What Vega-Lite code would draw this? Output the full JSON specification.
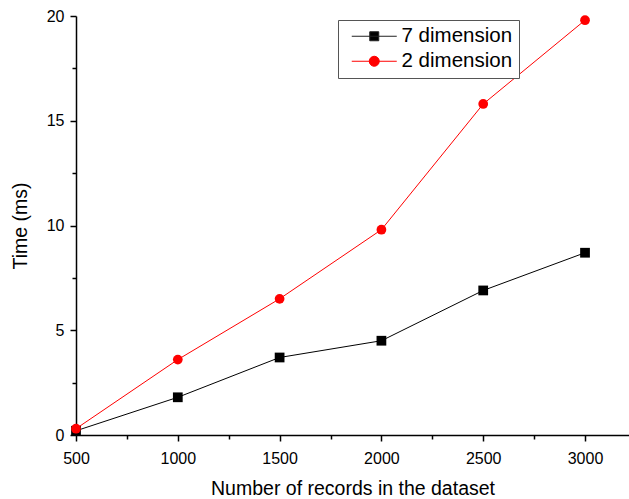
{
  "$schema": "https://vega.github.io/schema/vega-lite/v6.json",
  "width": 553,
  "height": 419,
  "autosize": "none",
  "padding": {"left": 76, "top": 16, "right": 0, "bottom": 64},
  "background": "white",
  "config": {
    "view": {"stroke": null},
    "font": "Liberation Sans",
    "axis": {
      "grid": false,
      "domainColor": "black",
      "domainWidth": 1.5,
      "tickColor": "black",
      "tickWidth": 1.5,
      "labelColor": "black",
      "titleColor": "black",
      "labelFont": "Liberation Sans",
      "titleFont": "Liberation Sans",
      "labelFontSize": 16,
      "titleFontSize": 19.5,
      "titleFontWeight": "normal"
    },
    "legend": {
      "orient": "none",
      "legendX": 262,
      "legendY": 4,
      "padding": 6,
      "strokeColor": "#555555",
      "fillColor": "white",
      "labelFontSize": 20.5,
      "labelFont": "Liberation Sans",
      "labelColor": "black",
      "symbolSize": 100,
      "symbolOpacity": 1,
      "symbolStrokeWidth": 1,
      "labelOffset": 17,
      "rowPadding": 4,
      "symbolOffset": 20
    }
  },
  "data": {
    "values": [
      {"records": 500, "time": 0.2, "series": "7 dimension"},
      {"records": 1000, "time": 1.8, "series": "7 dimension"},
      {"records": 1500, "time": 3.7, "series": "7 dimension"},
      {"records": 2000, "time": 4.5, "series": "7 dimension"},
      {"records": 2500, "time": 6.9, "series": "7 dimension"},
      {"records": 3000, "time": 8.7, "series": "7 dimension"},
      {"records": 500, "time": 0.3, "series": "2 dimension"},
      {"records": 1000, "time": 3.6, "series": "2 dimension"},
      {"records": 1500, "time": 6.5, "series": "2 dimension"},
      {"records": 2000, "time": 9.8, "series": "2 dimension"},
      {"records": 2500, "time": 15.8, "series": "2 dimension"},
      {"records": 3000, "time": 19.8, "series": "2 dimension"}
    ]
  },
  "encoding": {
    "x": {
      "field": "records",
      "type": "quantitative",
      "scale": {"domain": [500, 3216], "nice": false, "zero": false},
      "axis": {
        "title": "Number of records in the dataset",
        "values": [500, 750, 1000, 1250, 1500, 1750, 2000, 2250, 2500, 2750, 3000],
        "labelExpr": "datum.value % 500 === 0 ? datum.label : ''",
        "format": "d",
        "tickSize": {"condition": {"test": "datum.value % 500 === 0", "value": 6}, "value": 4},
        "labelPadding": 9,
        "titlePadding": 13,
        "labelFlush": false
      }
    },
    "y": {
      "field": "time",
      "type": "quantitative",
      "scale": {"domain": [0, 20], "nice": false},
      "axis": {
        "title": "Time (ms)",
        "values": [0, 2.5, 5, 7.5, 10, 12.5, 15, 17.5, 20],
        "labelExpr": "datum.value % 5 === 0 ? datum.label : ''",
        "format": "d",
        "tickSize": {"condition": {"test": "datum.value % 5 === 0", "value": 6}, "value": 4},
        "labelPadding": 6,
        "titlePadding": 16
      }
    }
  },
  "resolve": {"scale": {"color": "independent", "shape": "independent", "stroke": "independent"}},
  "layer": [
    {
      "mark": {"type": "line", "strokeWidth": 1},
      "encoding": {
        "color": {
          "field": "series",
          "type": "nominal",
          "scale": {"domain": ["7 dimension", "2 dimension"], "range": ["black", "red"]},
          "legend": null
        }
      }
    },
    {
      "mark": {"type": "point", "filled": true, "opacity": 1, "size": 95},
      "encoding": {
        "color": {
          "field": "series",
          "type": "nominal",
          "scale": {"domain": ["7 dimension", "2 dimension"], "range": ["black", "red"]},
          "legend": null
        },
        "shape": {
          "field": "series",
          "type": "nominal",
          "scale": {"domain": ["7 dimension", "2 dimension"], "range": ["square", "circle"]},
          "legend": null
        }
      }
    },
    {
      "transform": [{"filter": "datum.records < 0"}],
      "mark": {"type": "point", "filled": true, "opacity": 1, "size": 100, "strokeWidth": 1},
      "encoding": {
        "color": {
          "field": "series",
          "type": "nominal",
          "title": null,
          "scale": {"domain": ["7 dimension", "2 dimension"], "range": ["black", "red"]}
        },
        "stroke": {
          "field": "series",
          "type": "nominal",
          "title": null,
          "scale": {"domain": ["7 dimension", "2 dimension"], "range": ["#222222", "red"]}
        },
        "shape": {
          "field": "series",
          "type": "nominal",
          "title": null,
          "scale": {"domain": ["7 dimension", "2 dimension"], "range": ["M-4.5,0H4.5M-0.9,-0.9H0.9V0.9H-0.9Z", "M-4.5,0H4.5M1,0A1,1,0,1,1,-1,0A1,1,0,1,1,1,0Z"]}
        }
      }
    }
  ]
}
